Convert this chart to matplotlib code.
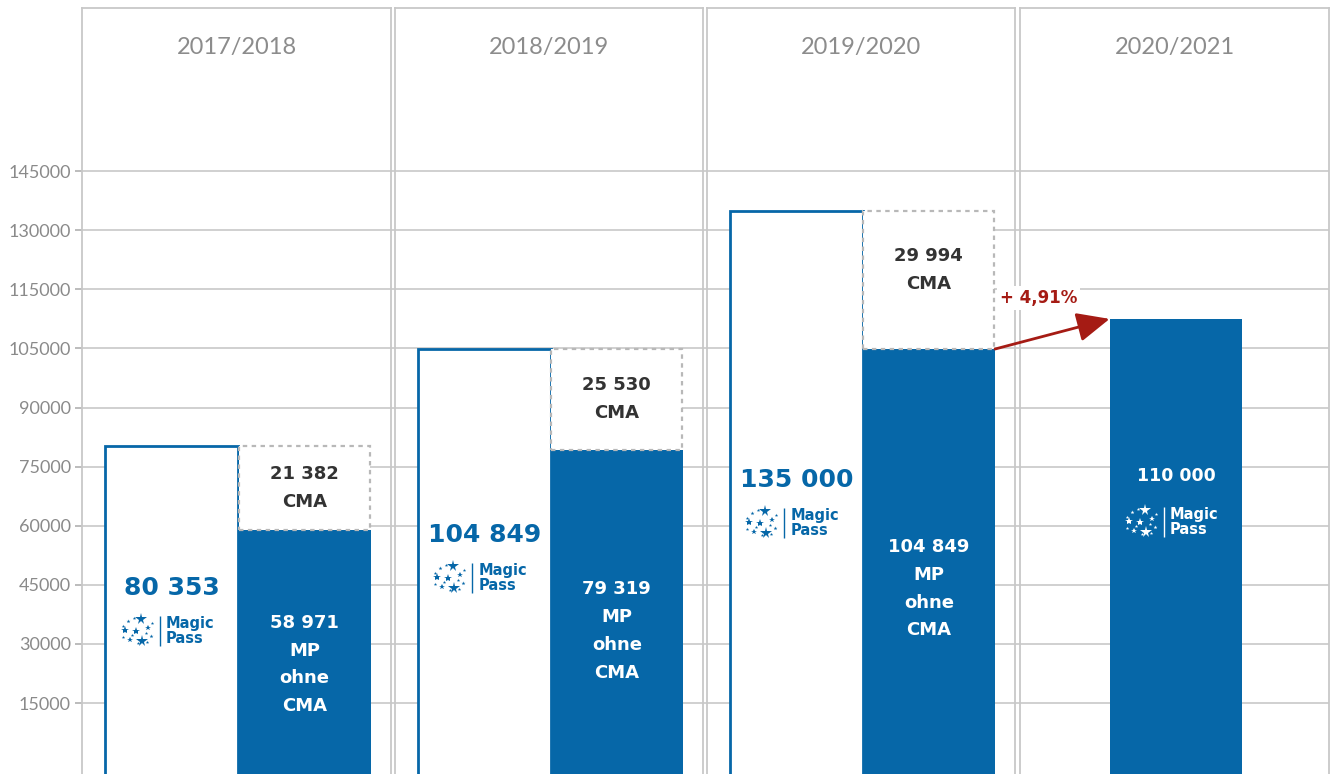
import numpy as np
import matplotlib
matplotlib.use("Agg")
import matplotlib.pyplot as plt
from matplotlib.patches import ConnectionPatch
from matplotlib.transforms import ScaledTranslation

seasons = ["2017/2018", "2018/2019", "2019/2020", "2020/2021"]
mp_total = [80353, 104849, 135000, 110000]
mp_without_cma = [58971, 79319, 104849]
cma_only = [21382, 25530, 29994]
growth = "+ 4,91%"
y_ticks = [15000, 30000, 45000, 60000, 75000, 90000, 105000, 115000, 130000, 145000]

BLUE = "#0667a8"
RED = "#a51b14"
GRID = "#c8c8c8"
BOLD = ["DejaVu Sans"]

plt.rcParams["font.family"] = ["Lato", "DejaVu Sans"]

# the original graphic spaces its (uneven) tick values evenly -> piecewise scale
knots = np.array([-15000, 0] + y_ticks + [205000], float)
steps = np.array([-1] + list(range(len(y_ticks) + 1)) + [len(y_ticks) + 4], float)

def fwd(v):
    return np.interp(v, knots, steps)

def inv(s):
    return np.interp(s, steps, knots)

def fmt(v):
    return f"{v:,}".replace(",", " ")

W, H = 1330, 774
fig = plt.figure(figsize=(13.3, 7.74), dpi=100)

def px_rect(l, r, t=8, b=774):
    return [l / W, 1 - b / H, (r - l) / W, (b - t) / H]

ylim = (-3000, 186400)
floor = -8000

# background axes: gridlines + y ticks
bg = fig.add_axes(px_rect(82, 1329))
bg.set_yscale("function", functions=(fwd, inv))
bg.set_ylim(*ylim)
bg.set_yticks(y_ticks)
bg.set_yticklabels([str(t) for t in y_ticks])
bg.set_xticks([])
bg.yaxis.grid(True, color=GRID, lw=1.2)
for s in bg.spines.values():
    s.set_visible(False)
bg.tick_params(axis="y", length=5, width=1.2, color="#b0b0b0",
               labelcolor="#8a8a8a", labelsize=13, pad=3)

STARS = [(3, -12, 10), (4, 10, 10), (-13, -1, 7), (-2, 0, 7), (10, -3, 5),
         (-8, 9, 5), (-10, -10, 3.5), (-4, -13, 3), (13, 5, 3.5), (-15, 6, 3),
         (14, -8, 3), (0, 12, 3), (-6, 4, 3), (8, 2, 3), (-15, -5, 3), (9, 11, 3)]

def magic_logo(ax, x, y, dy_pt, color):
    def shift(dx, dy):
        return ax.transData + ScaledTranslation(dx / 72, dy / 72, fig.dpi_scale_trans)
    for sx, sy, size in STARS:
        ax.plot([x], [y], marker="*", ms=size * 0.85, mew=0, color=color,
                transform=shift(-24.5 + sx * 0.72, dy_pt - sy * 0.72), clip_on=False)
    ax.plot([x], [y], marker="|", ms=21, mew=1, color=color,
            transform=shift(-8.6, dy_pt), clip_on=False)
    ax.text(x, y, "Magic\nPass", transform=shift(-4.3, dy_pt), ha="left", va="center",
            fontsize=10.5, fontweight="bold", color=color, linespacing=1.0,
            family=BOLD)

lefts = [82, 395, 707, 1020]
rights = [391, 703, 1015, 1329]
w = 0.43
x_white, x_blue, x_single = 0.29, 0.72, 0.505
label_frac = [0.55, 0.55, 0.53, 0.66]
axes = []
for i, season in enumerate(seasons):
    ax = fig.add_axes(px_rect(lefts[i], rights[i]))
    ax.set_facecolor("none")
    ax.set_yscale("function", functions=(fwd, inv))
    ax.set_ylim(*ylim)
    ax.set_xlim(0, 1)
    ax.set_xticks([])
    ax.set_yticks([])
    ax.minorticks_off()
    for name, s in ax.spines.items():
        s.set_color(GRID)
        s.set_linewidth(1.3)
    ax.spines["bottom"].set_visible(False)
    ax.text(0.5, 0.948, season, transform=ax.transAxes, ha="center", va="center",
            fontsize=17, color="#8c8c8c")
    axes.append(ax)

    if i < len(mp_without_cma):
        ax.bar(x_white, mp_total[i] - floor, bottom=floor, width=w, color="white",
               edgecolor=BLUE, lw=2, zorder=2)
        ax.bar(x_blue, mp_without_cma[i] - floor, bottom=floor, width=w, color=BLUE,
               lw=0, zorder=2)
        ax.bar(x_blue, cma_only[i], bottom=mp_without_cma[i], width=w * 0.99,
               color="white", edgecolor="#b8b8b8", lw=1.6, linestyle=(0, (2, 2)), zorder=2)
        ny = mp_total[i] * label_frac[i]
        ax.text(x_white, ny, fmt(mp_total[i]), ha="center", va="center", fontsize=18,
                fontweight="bold", color=BLUE, zorder=3, family=BOLD)
        magic_logo(ax, x_white, ny, -31, BLUE)
        ax.text(x_blue, mp_without_cma[i] * 0.42, fmt(mp_without_cma[i]) + "\nMP\nohne\nCMA",
                ha="center", va="center", fontsize=13, fontweight="bold", color="white",
                linespacing=1.7, zorder=3, family=BOLD)
        ax.text(x_blue, mp_without_cma[i] + cma_only[i] / 2, fmt(cma_only[i]) + "\nCMA",
                ha="center", va="center", fontsize=13, fontweight="bold", color="#333333",
                linespacing=1.7, zorder=3, family=BOLD)
    else:
        ax.bar(x_single, mp_total[i] - floor, bottom=floor, width=w, color=BLUE,
               lw=0, zorder=2)
        ny = mp_total[i] * label_frac[i]
        ax.text(x_single, ny, fmt(mp_total[i]), ha="center", va="center", fontsize=12.5,
                fontweight="bold", color="white", zorder=3, family=BOLD)
        magic_logo(ax, x_single, ny, -33, "white")

ax3, ax4 = axes[2], axes[3]
arrow = ConnectionPatch(xyA=(x_blue + w / 2, mp_without_cma[2]), coordsA=ax3.transData,
                        xyB=(x_single - w / 2, mp_total[3]), coordsB=ax4.transData,
                        arrowstyle="-|>,head_length=1.0,head_width=0.45", mutation_scale=20,
                        color=RED, lw=2, shrinkA=0, shrinkB=0, zorder=6)
fig.add_artist(arrow)
ax4.text(-0.065, 113500, growth, ha="left", va="center", color=RED, fontsize=12,
         fontweight="bold", clip_on=False, zorder=5, family=BOLD,
         bbox=dict(fc="white", ec="none", pad=2))

fig.savefig("out.png", dpi=100)
